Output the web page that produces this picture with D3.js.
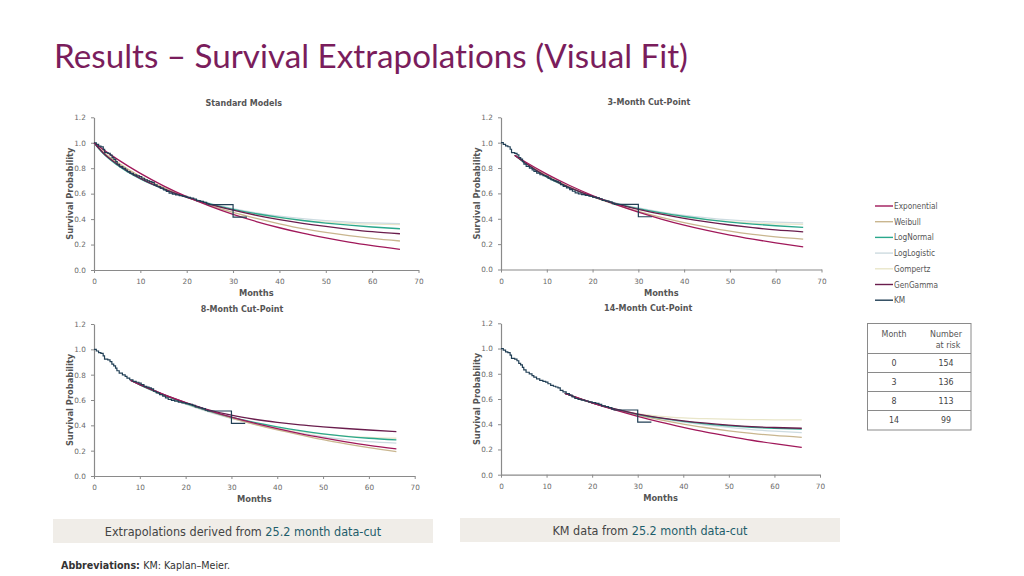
<!DOCTYPE html>
<html><head><meta charset="utf-8">
<script src="https://cdn.jsdelivr.net/npm/d3@7"></script>
<style>
html,body{margin:0;padding:0;background:#fff;}
svg{display:block;}
text{font-variant-ligatures:none;}
</style></head>
<body>
<svg id="c" width="1024" height="576"></svg>
<script>
// ---------------- DATA ----------------
const modelNames = ["Exponential","Weibull","LogNormal","LogLogistic","Gompertz","GenGamma","KM"];
const panelTitles = ["Standard Models","3-Month Cut-Point","8-Month Cut-Point","14-Month Cut-Point"];
const xTicks = [0,10,20,30,40,50,60,70];
const yTicks = [0.0,0.2,0.4,0.6,0.8,1.0,1.2];

// Kaplan-Meier (step) data
const kmTime = [0,0.5,1.0,1.5,2.0,2.3,3.0,3.5,3.9,4.3,4.7,5.0,5.5,6.2,6.8,7.2,7.8,8.5,9.2,9.8,10.3,10.9,11.5,12.0,12.5,13.0,13.6,14.3,15.0,15.6,16.2,16.9,17.6,18.4,19.2,20.0,20.8,21.5,22.1,22.9,23.6,24.3,24.8,30.0,33.0];
const kmSurv = [1.0,0.987,0.974,0.968,0.948,0.922,0.916,0.903,0.883,0.870,0.851,0.831,0.812,0.799,0.786,0.773,0.760,0.747,0.740,0.734,0.721,0.708,0.701,0.695,0.688,0.669,0.656,0.643,0.630,0.617,0.604,0.597,0.591,0.584,0.578,0.571,0.565,0.558,0.545,0.539,0.532,0.519,0.513,0.416,0.416];

// Standard models
const stdTime        = [0,2,5,10,15,20,25,30,35,40,45,50,55,60,66];
const stdExponential = [1.0,0.946,0.871,0.759,0.661,0.576,0.502,0.437,0.381,0.332,0.289,0.252,0.219,0.191,0.162];
const stdWeibull     = [1.0,0.925,0.845,0.735,0.648,0.573,0.508,0.452,0.405,0.363,0.325,0.295,0.270,0.249,0.228];
const stdLogNormal   = [1.0,0.915,0.825,0.715,0.636,0.572,0.520,0.477,0.442,0.413,0.389,0.369,0.352,0.338,0.324];
const stdLogLogistic = [1.0,0.918,0.830,0.718,0.638,0.574,0.523,0.482,0.449,0.423,0.403,0.388,0.377,0.370,0.364];
const stdGompertz    = [1.0,0.930,0.850,0.735,0.645,0.572,0.515,0.472,0.437,0.410,0.390,0.376,0.366,0.360,0.356];
const stdGenGamma    = [1.0,0.920,0.832,0.720,0.638,0.571,0.516,0.470,0.430,0.396,0.367,0.342,0.320,0.301,0.285];

// 3-month cut-point
const m3Time        = [3,5,10,15,20,25,30,35,40,45,50,55,60,66];
const m3Exponential = [0.90,0.855,0.752,0.662,0.583,0.513,0.452,0.398,0.350,0.308,0.271,0.239,0.210,0.179];
const m3Weibull     = [0.90,0.850,0.740,0.650,0.575,0.512,0.458,0.411,0.370,0.334,0.302,0.277,0.258,0.240];
const m3LogNormal   = [0.90,0.845,0.728,0.643,0.575,0.522,0.480,0.446,0.418,0.394,0.374,0.358,0.345,0.332];
const m3LogLogistic = [0.90,0.846,0.730,0.645,0.577,0.525,0.485,0.453,0.427,0.407,0.391,0.380,0.373,0.368];
const m3Gompertz    = [0.90,0.850,0.738,0.650,0.578,0.522,0.478,0.443,0.415,0.393,0.377,0.366,0.360,0.356];
const m3GenGamma    = [0.90,0.847,0.732,0.646,0.576,0.520,0.474,0.436,0.403,0.375,0.351,0.330,0.312,0.297];

// 8-month cut-point
const m8Time        = [8,10,15,20,25,30,35,40,45,50,55,60,66];
const m8Exponential = [0.755,0.723,0.647,0.580,0.519,0.465,0.417,0.374,0.335,0.301,0.270,0.242,0.214];
const m8Weibull     = [0.755,0.721,0.643,0.574,0.512,0.457,0.408,0.364,0.325,0.287,0.254,0.224,0.193];
const m8LogNormal   = [0.755,0.720,0.642,0.573,0.515,0.465,0.423,0.388,0.358,0.333,0.313,0.298,0.285];
const m8LogLogistic = [0.755,0.719,0.638,0.567,0.506,0.455,0.410,0.372,0.338,0.310,0.287,0.271,0.259];
const m8Gompertz    = [0.755,0.720,0.640,0.570,0.510,0.460,0.418,0.382,0.352,0.330,0.315,0.305,0.298];
const m8GenGamma    = [0.755,0.722,0.647,0.580,0.523,0.480,0.448,0.423,0.403,0.388,0.375,0.363,0.351];

// 14-month cut-point
const m14Time        = [14,15,20,25,30,35,40,45,50,55,60,66];
const m14Exponential = [0.645,0.632,0.570,0.513,0.462,0.416,0.375,0.337,0.304,0.273,0.246,0.217];
const m14Weibull     = [0.645,0.632,0.569,0.516,0.472,0.434,0.401,0.372,0.348,0.328,0.311,0.296];
const m14LogNormal   = [0.645,0.632,0.569,0.519,0.479,0.448,0.423,0.403,0.388,0.376,0.368,0.362];
const m14LogLogistic = [0.645,0.632,0.569,0.518,0.477,0.444,0.416,0.394,0.375,0.358,0.345,0.333];
const m14Gompertz    = [0.645,0.632,0.572,0.522,0.484,0.463,0.451,0.444,0.440,0.437,0.435,0.434];
const m14GenGamma    = [0.645,0.632,0.570,0.521,0.481,0.451,0.427,0.408,0.393,0.381,0.374,0.368];

// Number at risk table
const riskMonths  = [0,3,8,14];
const riskNumbers = [154,136,113,99];

// ---------------- STYLE / LAYOUT ----------------
const colors = {Exponential:"#a0185a",Weibull:"#c9b68f",LogNormal:"#2aa88c",LogLogistic:"#cddbe0",Gompertz:"#e9e6c9",GenGamma:"#6a1d4d",KM:"#213f55"};
const drawOrder = ["Gompertz","LogLogistic","Weibull","LogNormal","GenGamma","Exponential"];

const panelData = [
  {t:stdTime, s:{Exponential:stdExponential,Weibull:stdWeibull,LogNormal:stdLogNormal,LogLogistic:stdLogLogistic,Gompertz:stdGompertz,GenGamma:stdGenGamma}},
  {t:m3Time,  s:{Exponential:m3Exponential,Weibull:m3Weibull,LogNormal:m3LogNormal,LogLogistic:m3LogLogistic,Gompertz:m3Gompertz,GenGamma:m3GenGamma}},
  {t:m8Time,  s:{Exponential:m8Exponential,Weibull:m8Weibull,LogNormal:m8LogNormal,LogLogistic:m8LogLogistic,Gompertz:m8Gompertz,GenGamma:m8GenGamma}},
  {t:m14Time, s:{Exponential:m14Exponential,Weibull:m14Weibull,LogNormal:m14LogNormal,LogLogistic:m14LogLogistic,Gompertz:m14Gompertz,GenGamma:m14GenGamma}}
];
const layout = [
  {x0:94,  x1:418.5, y0:270,   y1:117.3, title:105.5},
  {x0:501, x1:821.5, y0:269.5, y1:117.3, title:105},
  {x0:94,  x1:414.7, y0:476,   y1:324,   title:311.5},
  {x0:501, x1:820,   y0:474.7, y1:323.3, title:310.5}
];

const svg = d3.select("#c");
const chartFont = "'DejaVu Sans', Verdana, sans-serif";

// Title
svg.append("text").attr("x",54).attr("y",68)
  .attr("font-family","Lato, 'Open Sans', sans-serif").attr("font-size",32)
  .attr("fill","#7a1d5c").attr("textLength",634).attr("lengthAdjust","spacingAndGlyphs")
  .text("Results – Survival Extrapolations (Visual Fit)");

layout.forEach((L,i)=>{
  const x = d3.scaleLinear().domain([0,70]).range([L.x0,L.x1]);
  const y = d3.scaleLinear().domain([0,1.2]).range([L.y0,L.y1]);
  const g = svg.append("g");

  const xa = g.append("g").attr("transform",`translate(0,${L.y0})`)
    .call(d3.axisBottom(x).tickValues(xTicks).tickSize(3).tickSizeOuter(0).tickFormat(d3.format("d")));
  const ya = g.append("g").attr("transform",`translate(${L.x0},0)`)
    .call(d3.axisLeft(y).tickValues(yTicks).tickSize(3).tickSizeOuter(0).tickFormat(d3.format(".1f")));
  [xa,ya].forEach(a=>{
    a.select(".domain").attr("stroke","#8a8a8a").attr("stroke-width",1.2);
    a.selectAll(".tick line").attr("stroke","#8a8a8a");
    a.selectAll(".tick text").attr("fill","#6a6a6a").attr("font-family",chartFont).attr("font-size",7.3);
  });
  xa.selectAll(".tick text").attr("dy","1.1em");
  ya.selectAll(".tick text").attr("dx","-0.3em");

  g.append("text").attr("x",x(32.3)).attr("y",L.title).attr("text-anchor","middle")
    .attr("font-family",chartFont).attr("font-weight","bold").attr("font-size",8).attr("fill","#555")
    .text(panelTitles[i]);
  g.append("text").attr("x",x(35)).attr("y",L.y0+26).attr("text-anchor","middle")
    .attr("font-family",chartFont).attr("font-weight","bold").attr("font-size",8.3).attr("fill","#555")
    .text("Months");
  g.append("text").attr("transform",`translate(${L.x0-21},${y(0.6)}) rotate(-90)`)
    .attr("text-anchor","middle")
    .attr("font-family",chartFont).attr("font-weight","bold").attr("font-size",8.3).attr("fill","#555")
    .text("Survival Probability");

  const P = panelData[i];
  const line = d3.line().x(d=>x(d[0])).y(d=>y(d[1])).curve(d3.curveMonotoneX);
  drawOrder.forEach(m=>{
    const pts = P.t.map((t,k)=>[t,P.s[m][k]]);
    g.append("path").datum(pts).attr("d",line).attr("fill","none")
      .attr("stroke",colors[m]).attr("stroke-width",1.3);
  });
  const kmLine = d3.line().x(d=>x(d[0])).y(d=>y(d[1])).curve(d3.curveStepAfter);
  const kmPts = kmTime.map((t,k)=>[t,kmSurv[k]]);
  g.append("path").datum(kmPts).attr("d",kmLine).attr("fill","none")
    .attr("stroke",colors.KM).attr("stroke-width",1.2);
});

// Legend
const lg = svg.append("g");
modelNames.forEach((m,i)=>{
  const yy = 206 + i*15.7;
  lg.append("line").attr("x1",875).attr("x2",893).attr("y1",yy).attr("y2",yy)
    .attr("stroke",colors[m]).attr("stroke-width",1.4);
  lg.append("text").attr("x",894).attr("y",yy+3)
    .attr("font-family","'DejaVu Sans Condensed','DejaVu Sans',sans-serif").attr("font-size",8.2).attr("fill","#555")
    .text(m);
});

// Table
const tb = svg.append("g");
const tX0=867.5, tX1=971, rowLines=[323.5,353.5,372.5,391.5,410.5,430];
tb.append("rect").attr("x",tX0).attr("y",rowLines[0]).attr("width",tX1-tX0).attr("height",rowLines[5]-rowLines[0])
  .attr("fill","#fff").attr("stroke","#8a8a8a").attr("stroke-width",1);
rowLines.slice(1,5).forEach(v=>{
  tb.append("line").attr("x1",tX0).attr("x2",tX1).attr("y1",v).attr("y2",v).attr("stroke","#8a8a8a");
});
const tf = "'DejaVu Sans Condensed','DejaVu Sans',sans-serif";
tb.append("text").attr("x",894).attr("y",337).attr("text-anchor","middle").attr("font-family",tf).attr("font-size",8.8).attr("fill","#555").text("Month");
tb.append("text").attr("x",946).attr("y",337).attr("text-anchor","middle").attr("font-family",tf).attr("font-size",8.8).attr("fill","#555").text("Number");
tb.append("text").attr("x",948).attr("y",348).attr("text-anchor","middle").attr("font-family",tf).attr("font-size",8.8).attr("fill","#555").text("at risk");
riskMonths.forEach((m,i)=>{
  const cy = (rowLines[i+1]+rowLines[i+2])/2 + 3;
  tb.append("text").attr("x",894).attr("y",cy).attr("text-anchor","middle").attr("font-family",tf).attr("font-size",8.8).attr("fill","#444").text(m);
  tb.append("text").attr("x",946).attr("y",cy).attr("text-anchor","middle").attr("font-family",tf).attr("font-size",8.8).attr("fill","#444").text(riskNumbers[i]);
});

// Bottom boxes
const boxes = [
  {x:53,y:519,w:380,h:24,pre:"Extrapolations derived from ",hl:"25.2 month data-cut",cx:243},
  {x:460,y:518,w:380,h:24,pre:"KM data from ",hl:"25.2 month data-cut",cx:650}
];
boxes.forEach(b=>{
  svg.append("rect").attr("x",b.x).attr("y",b.y).attr("width",b.w).attr("height",b.h).attr("fill","#f0ede8");
  const t = svg.append("text").attr("x",b.cx).attr("y",b.y+16.5).attr("text-anchor","middle")
    .attr("font-family","'Liberation Sans Narrow','DejaVu Sans Condensed',sans-serif").attr("font-size",12.5);
  t.append("tspan").attr("fill","#444").text(b.pre);
  t.append("tspan").attr("fill","#1e5d6b").text(b.hl);
});

// Abbreviations
const ab = svg.append("text").attr("x",61).attr("y",569)
  .attr("font-family","'DejaVu Sans Condensed','DejaVu Sans',sans-serif").attr("font-size",10).attr("fill","#333")
  .attr("textLength",169).attr("lengthAdjust","spacingAndGlyphs");
ab.append("tspan").attr("font-weight","bold").text("Abbreviations: ");
ab.append("tspan").text("KM: Kaplan–Meier.");
</script>
</body></html>
